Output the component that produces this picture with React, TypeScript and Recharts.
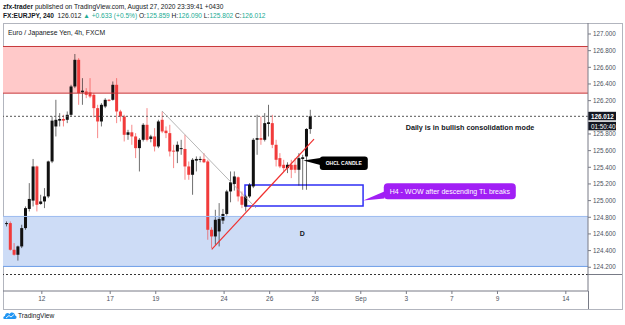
import React from 'react';
import {
  ComposedChart, Bar, XAxis, YAxis, ReferenceArea, ReferenceLine, ReferenceDot,
} from 'recharts';

const FONT = "'Liberation Sans', Arial, sans-serif";
const UP = '#111111';
const DOWN = '#f13b3b';
const TEAL = '#22ab94';
const TEXT = '#131722';
const AXIS_TEXT = '#4c525e';

// EUR/JPY 4h candles, oldest first
const opens = [
  124.72, 124.73, 124.41, 124.35, 124.45, 124.67, 124.90, 125.00, 125.41, 124.96,
  124.99, 125.05, 125.47, 125.89, 125.96, 125.98, 125.97, 126.03, 126.37, 126.69,
  126.30, 126.31, 126.30, 126.27, 126.11, 125.95, 126.13, 126.21, 126.21, 126.39,
  126.07, 126.01, 125.79, 125.82, 125.77, 125.63, 125.73, 125.91, 125.74, 125.77,
  125.65, 125.97, 125.84, 125.81, 125.60, 125.59, 125.62, 125.62, 125.41, 125.31,
  125.48, 125.49, 125.50, 125.47, 124.65, 124.57, 124.63, 124.76, 124.84, 125.11,
  125.20, 125.28, 125.05, 124.93, 125.05, 125.17, 125.73, 125.75, 125.73, 125.92,
  125.93, 125.67, 125.51, 125.43, 125.39, 125.43, 125.43, 125.37, 125.50, 125.53,
  125.859,
];
const highs = [
  124.75, 124.75, 124.49, 124.46, 124.71, 124.93, 125.21, 125.50, 125.42, 125.07,
  125.15, 125.48, 126.01, 126.21, 126.05, 126.03, 126.07, 126.39, 126.76, 126.71,
  126.47, 126.35, 126.47, 126.29, 126.15, 126.17, 126.23, 126.22, 126.43, 126.47,
  126.09, 126.03, 125.85, 125.91, 125.81, 125.75, 125.93, 126.11, 125.79, 125.87,
  125.97, 126.07, 125.89, 125.91, 125.67, 125.71, 125.73, 125.79, 125.47, 125.51,
  125.53, 125.53, 125.57, 125.49, 124.68, 124.89, 124.97, 124.90, 125.13, 125.35,
  125.35, 125.29, 125.11, 125.07, 125.21, 125.75, 126.03, 126.01, 126.05, 126.15,
  126.03, 125.73, 125.57, 125.49, 125.46, 125.49, 125.51, 125.57, 125.55, 125.87,
  126.090,
];
const lows = [
  124.69, 124.40, 124.34, 124.28, 124.43, 124.65, 124.87, 124.93, 124.87, 124.95,
  124.91, 125.03, 125.45, 125.77, 125.89, 125.89, 125.93, 126.01, 126.35, 126.15,
  126.15, 126.23, 126.23, 126.00, 125.75, 125.89, 126.11, 126.19, 126.20, 125.93,
  125.95, 125.71, 125.73, 125.67, 125.51, 125.35, 125.71, 125.71, 125.70, 125.59,
  125.63, 125.81, 125.75, 125.53, 125.39, 125.45, 125.55, 125.25, 125.25, 125.07,
  125.35, 125.46, 125.45, 124.53, 124.43, 124.47, 124.45, 124.72, 124.82, 124.98,
  125.12, 124.99, 124.91, 124.87, 125.03, 125.15, 125.55, 125.67, 125.71, 125.77,
  125.63, 125.41, 125.39, 125.35, 125.33, 125.27, 125.33, 125.18, 125.13, 125.13,
  125.802,
];
const closes = [
  124.73, 124.41, 124.35, 124.45, 124.67, 124.91, 125.02, 125.41, 124.95, 124.99,
  125.05, 125.47, 125.96, 125.97, 125.98, 125.96, 126.03, 126.37, 126.69, 126.29,
  126.32, 126.27, 126.25, 126.11, 125.95, 126.15, 126.21, 126.20, 126.39, 126.07,
  126.01, 125.79, 125.82, 125.77, 125.63, 125.73, 125.91, 125.73, 125.77, 125.65,
  125.95, 125.83, 125.81, 125.59, 125.59, 125.67, 125.63, 125.41, 125.31, 125.49,
  125.50, 125.50, 125.46, 124.65, 124.57, 124.77, 124.78, 124.84, 125.11, 125.22,
  125.29, 125.05, 124.95, 125.05, 125.19, 125.73, 125.75, 125.73, 125.93, 125.94,
  125.67, 125.49, 125.41, 125.39, 125.43, 125.37, 125.37, 125.51, 125.52, 125.86,
  126.012,
];

// time axis: bar position of each labelled day
const tickBars = [9.2, 27.2, 39.2, 57.2, 69.2, 81.2, 93.2, 105.2, 117.2, 129.2, 147.2];
const tickLabels = ['12', '17', '19', '24', '26', '28', 'Sep', '3', '7', '9', '14'];
const priceTicks = [
  124.2, 124.4, 124.6, 124.8, 125.0, 125.2, 125.4, 125.6, 125.8, 126.2, 126.4, 126.6, 126.8, 127.0,
];

const supplyZone = [126.29, 126.85];
const demandZone = [124.21, 124.81];
const lastPrice = 126.012;
const lowerLevel = 124.113;
const descendingTL = [{ x: 40.85, y: 126.076 }, { x: 65.6, y: 124.911 }];
const risingTL = [{ x: 53.94, y: 124.415 }, { x: 80.88, y: 125.739 }];
const breakBox = { x1: 62.7, x2: 93.8, y1: 124.935, y2: 125.187 };
const candleNote = { x: 78.06, y: 125.481 };
const breakNote = { x: 93.86, y: 125.001 };
const dailyNote = { x: 121.96, y: 125.88 };
const zoneLabel = { x: 77.8, y: 124.607 };

const candles = opens.map((o, i) => ({ i, o, h: highs[i], l: lows[i], c: closes[i] }));

function Candle(props: any) {
  const { x, y, width, height, payload } = props;
  if (!payload || height == null || isNaN(y)) return null;
  const { o, h, l, c } = payload;
  const k = h > l ? height / (h - l) : 0;
  const py = (v: number) => y + (h - v) * k;
  const mid = x + width / 2;
  const color = c >= o ? UP : DOWN;
  const top = py(Math.max(o, c));
  const bottom = py(Math.min(o, c));
  return (
    <g>
      <line x1={mid} x2={mid} y1={y} y2={y + height} stroke={color} strokeOpacity={0.6} strokeWidth={1} />
      <rect x={x} y={top} width={width} height={Math.max(1, bottom - top)} fill={color} />
    </g>
  );
}

function PriceTag(props: any) {
  const vb = props.viewBox || {};
  const x = vb.x + vb.width;
  const y = vb.y;
  return (
    <g fontFamily={FONT}>
      <rect x={x} y={y - 4.5} width={28} height={8.5} fill="#131722" />
      <text x={x + 3} y={y} fontSize={6.3} fill="#fff" fontWeight="bold" dominantBaseline="central">
        {lastPrice.toFixed(3)}
      </text>
      <rect x={x} y={y + 5.5} width={28} height={8.5} fill="#131722" />
      <text x={x + 3} y={y + 10} fontSize={6.3} fill="#fff" dominantBaseline="central">01:50:40</text>
    </g>
  );
}

const CandleCallout = ({ cx, cy }: any) => (
  <g fontFamily={FONT}>
    <path d={`M${cx} ${cy} L${cx + 17} ${cy - 2.5} L${cx + 17} ${cy + 4.5} Z`} fill="#000" />
    <rect x={cx + 16.5} y={cy - 4} width={48} height={13.5} rx={3} fill="#000" />
    <text x={cx + 40.5} y={cy + 2.8} fontSize={5} fontWeight="bold" fill="#fff" textAnchor="middle" dominantBaseline="central">
      OHCL CANDLE
    </text>
  </g>
);

const BreakCallout = ({ cx, cy }: any) => (
  <g fontFamily={FONT}>
    <path d={`M${cx} ${cy} L${cx + 21} ${cy - 9} L${cx + 21} ${cy - 2} Z`} fill="#a11ff5" />
    <rect x={cx + 20.5} y={cy - 17.2} width={132} height={16} rx={4} fill="#a11ff5" />
    <text x={cx + 86.5} y={cy - 9.2} fontSize={7} fill="#fff" textAnchor="middle" dominantBaseline="central">
      H4 - WOW after descending TL breaks
    </text>
  </g>
);

const NoteText = (text: string, size: number) => ({ cx, cy }: any) => (
  <text x={cx} y={cy} fontFamily={FONT} fontSize={size} fontWeight="bold" fill={TEXT} textAnchor="middle" dominantBaseline="central">
    {text}
  </text>
);

function Logo() {
  return (
    <svg width="14" height="9" viewBox="0 0 14 9" style={{ position: 'absolute', left: 3, top: 311 }}>
      <path d="M1 8 C0 8 0 5 2 5 C2 2 5 1 6.5 3 C7.5 0.5 12 1 12 4.5 C14 4.5 14 8 12 8 Z" fill="#2196f3" />
      <path d="M3 7 L6 4.5 L8 6 L11 3.5" stroke="#fff" strokeWidth={0.9} fill="none" />
    </svg>
  );
}

export default function App() {
  const teal = { color: TEAL };
  return (
    <div style={{ position: 'fixed', left: 0, top: 0, width: 625, height: 325, background: '#fff', fontFamily: FONT, color: TEXT, overflow: 'hidden' }}>
      <div style={{ position: 'absolute', left: 3, top: 2, fontSize: 6.6, lineHeight: '9px', whiteSpace: 'nowrap' }}>
        <b>zfx-trader</b> published on TradingView.com, August 27, 2020 23:39:41 +0430
      </div>
      <div style={{ position: 'absolute', left: 3, top: 11, fontSize: 6.6, lineHeight: '9px', whiteSpace: 'nowrap' }}>
        <b>FX:EURJPY, 240</b>&nbsp; 126.012 <span style={teal}>▲ +0.633 (+0.5%)</span> O:<span style={teal}>125.859</span>{' '}
        H:<span style={teal}>126.090</span> L:<span style={teal}>125.802</span> C:<span style={teal}>126.012</span>
      </div>
      <div style={{ position: 'absolute', left: 3, top: 23, width: 618, height: 285, border: '1px solid #b2b5be' }} />
      <div style={{ position: 'absolute', left: 588, top: 291, width: 1, height: 18, background: '#787b86' }} />
      <div style={{ position: 'absolute', left: 588, top: 274, width: 34, height: 1, background: '#787b86' }} />

      <div style={{ position: 'absolute', left: 0, top: 0 }}>
        <ComposedChart width={625} height={325} data={candles} margin={{ top: 23, right: 3, bottom: 16, left: 3 }}>
          <ReferenceArea y1={supplyZone[0]} y2={supplyZone[1]} fill="#ffc9c9" fillOpacity={1} stroke="none" />
          <ReferenceLine y={supplyZone[1]} stroke="#c8393b" strokeWidth={1} />
          <ReferenceLine y={supplyZone[0]} stroke="#c8393b" strokeWidth={1} />
          <ReferenceArea y1={demandZone[0]} y2={demandZone[1]} fill="#cddcf6" fillOpacity={1} stroke="none" />
          <ReferenceLine y={demandZone[1]} stroke="#9cbcf0" strokeWidth={1} />
          <ReferenceLine y={demandZone[0]} stroke="#6f9ee8" strokeWidth={1} />
          <ReferenceLine y={lastPrice} stroke="#555" strokeDasharray="2 2" strokeWidth={1} label={(p: any) => <PriceTag {...p} />} />
          <ReferenceLine y={lowerLevel} stroke="#333" strokeDasharray="2 2" strokeWidth={1} />

          <XAxis
            type="number"
            dataKey="i"
            domain={[-1.03, 153.04]}
            allowDataOverflow
            ticks={tickBars}
            interval={0}
            tickFormatter={(v: number) => tickLabels[tickBars.indexOf(v)] ?? ''}
            height={18}
            tickSize={3}
            tickMargin={2}
            stroke="#787b86"
            tick={{ fontSize: 6.5, fill: AXIS_TEXT, fontFamily: FONT }}
          />
          <YAxis
            orientation="right"
            domain={[123.915, 127.132]}
            allowDataOverflow
            ticks={priceTicks}
            interval={0}
            tickFormatter={(v: number) => v.toFixed(3)}
            width={34}
            tickSize={3}
            tickMargin={2}
            stroke="#787b86"
            tick={{ fontSize: 6.3, fill: AXIS_TEXT, fontFamily: FONT }}
          />

          <Bar dataKey={(d: any) => [d.l, d.h]} barSize={3} shape={<Candle />} isAnimationActive={false} />

          <ReferenceLine segment={descendingTL} stroke="#a3a3a3" strokeWidth={0.8} />
          <ReferenceArea
            x1={breakBox.x1}
            x2={breakBox.x2}
            y1={breakBox.y1}
            y2={breakBox.y2}
            fill="none"
            fillOpacity={0}
            stroke="#2f2ff5"
            strokeWidth={1.5}
          />
          <ReferenceLine segment={risingTL} stroke="#f0302f" strokeWidth={1.2} />
          <ReferenceDot x={candleNote.x} y={candleNote.y} shape={CandleCallout} />
          <ReferenceDot x={breakNote.x} y={breakNote.y} shape={BreakCallout} />
          <ReferenceDot x={dailyNote.x} y={dailyNote.y} shape={NoteText('Daily is in bullish consolidation mode', 7.2)} />
          <ReferenceDot x={zoneLabel.x} y={zoneLabel.y} shape={NoteText('D', 7)} />
        </ComposedChart>
      </div>

      <div style={{ position: 'absolute', left: 8, top: 28, fontSize: 6.8, lineHeight: '9px', whiteSpace: 'nowrap' }}>
        Euro / Japanese Yen, 4h, FXCM
      </div>
      <Logo />
      <div style={{ position: 'absolute', left: 18, top: 311, fontSize: 6.6, lineHeight: '9px', color: '#131722' }}>TradingView</div>
    </div>
  );
}
